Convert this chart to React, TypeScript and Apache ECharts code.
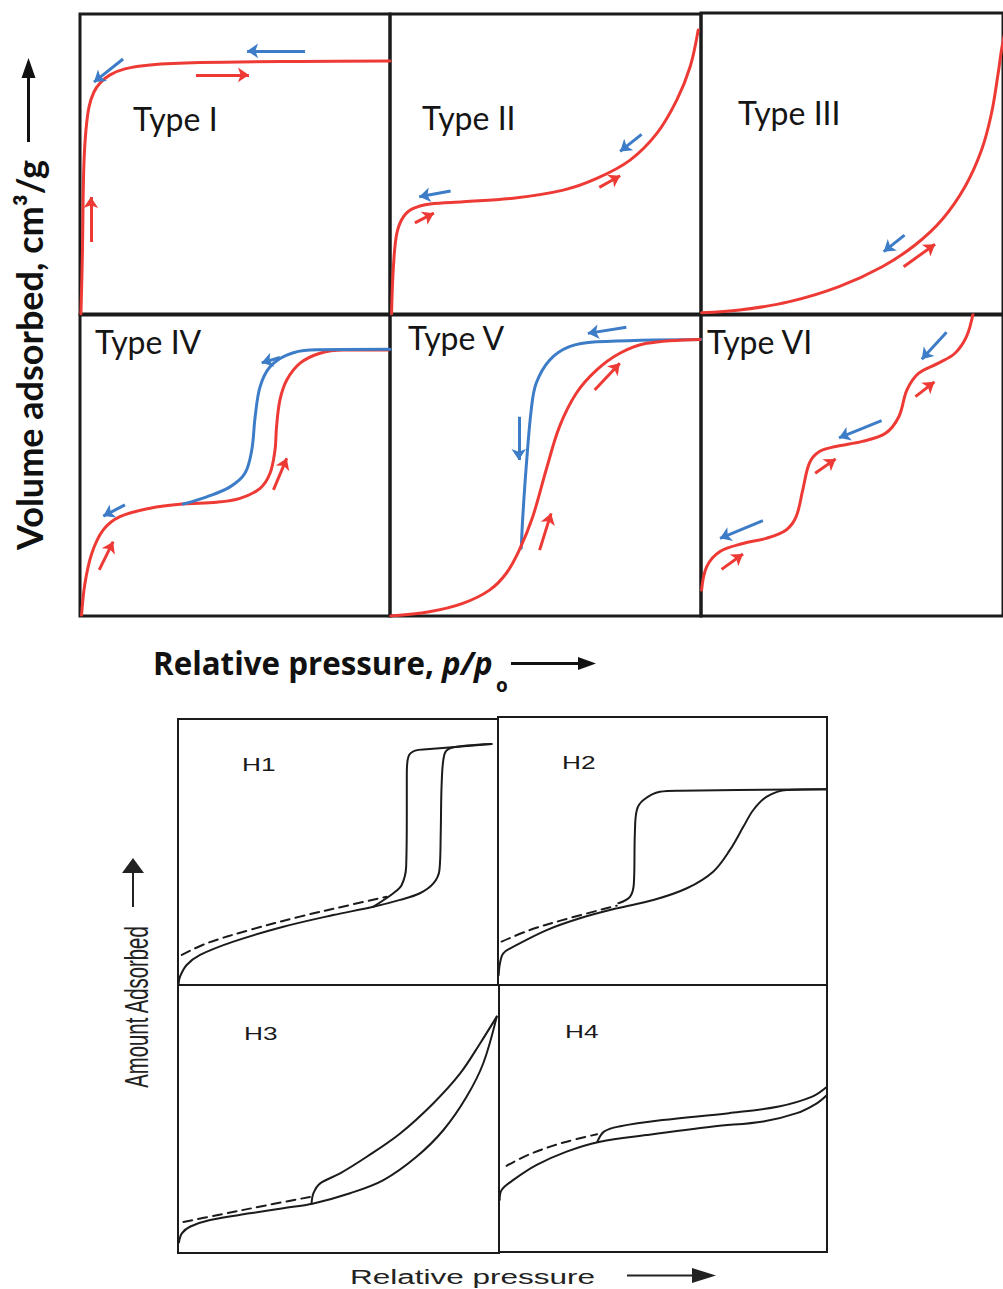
import { useEffect, useRef } from "react";
import * as echarts from "echarts";

const RED = "#EE3A35";
const BLUE = "#3D7CC6";
const INK = "#1b1b1b";

// ---------- Top figure (IUPAC types), coordinates in % of each panel ----------
const typeICurve = [[0.3, 0], [0.8, 21], [1, 38], [1.3, 51], [1.9, 61], [2.9, 69], [4.5, 74], [6.5, 77], [9.7, 79.7], [14.5, 81.7], [22.6, 83], [38.7, 83.8], [71, 84.2], [100, 84.3]];
const typeIRedArrows = [[37.4, 79.7, 54.5, 79.7], [3.5, 24, 3.5, 39]];
const typeIBlueArrows = [[13.9, 85, 4.5, 77.3], [72.6, 87.7, 53.9, 87.7]];

const typeIICurve = [[0.5, 0], [1.1, 15.8], [2.2, 26.9], [4.3, 32.4], [7.5, 35.2], [12.9, 36.7], [23.6, 37.4], [39.6, 38.6], [55.7, 41.3], [66.5, 45.2], [77.2, 51.3], [85.8, 60.2], [92.2, 71.3], [96.5, 82.4], [99.1, 94.7]];
const typeIIRedArrows = [[8, 30.4, 14.1, 33.6], [67.3, 42.2, 74, 46.1]];
const typeIIBlueArrows = [[19.5, 41, 9.4, 39.1], [80.9, 59.9, 74, 54.2]];

const typeIIICurve = [[0.2, 0.4], [12.8, 1.3], [29.3, 4.1], [45.7, 9.1], [60, 15.7], [71, 23], [79.7, 31.2], [87.4, 42.3], [92.9, 54.5], [96.2, 66.7], [98.4, 80], [99.5, 87.7], [100.5, 93]];
const typeIIIRedArrows = [[67.1, 15.7, 77.5, 23.2]];
const typeIIIBlueArrows = [[67.4, 26.2, 60.5, 20.7]];

const typeIVAds = [[0.5, 0.3], [1.6, 10.9], [3.8, 20.8], [7.5, 28.6], [12.9, 33], [22.6, 35.8], [33.3, 37.2], [44.1, 37.8], [51.6, 39.1], [58.1, 42.4], [61.3, 47.4], [62.9, 55.1], [63.4, 62.9], [64.5, 71.8], [66.7, 78.4], [71, 84], [77.4, 87.3], [84.9, 88.4], [99.5, 88.4]];
const typeIVDes = [[33.3, 37.2], [40.9, 39.6], [48.4, 42.9], [53.2, 47.4], [55.4, 55.1], [56.5, 66.2], [58.1, 76.2], [61.3, 82.8], [66.7, 86.7], [74.2, 88.4], [100, 88.6]];
const typeIVRedArrows = [[62.4, 41.9, 66.7, 52.4], [6.2, 15.3, 10.7, 24.7]];
const typeIVBlueArrows = [[64.5, 85.9, 58.6, 84.1], [14.5, 36.9, 7.5, 33.2]];

const typeVAds = [[0.2, 0], [12.6, 1.4], [23.4, 4.2], [32, 8.6], [37.4, 14.2], [41.6, 22], [45.9, 33], [50.2, 48.5], [54.5, 62.9], [59.9, 74], [66.4, 81.7], [73.9, 87.3], [82.5, 90.6], [99.7, 91.9]];
const typeVDes = [[42.2, 22.5], [42.7, 33], [43.8, 49.6], [45.4, 68.4], [47, 77.3], [51.3, 85], [57.7, 89.5], [66.4, 91.1], [100, 91.9]];
const typeVRedArrows = [[65.8, 75.1, 73.9, 84], [48.1, 21.9, 51.8, 34.1]];
const typeVBlueArrows = [[76, 95.9, 63.6, 93.9], [41.4, 66.2, 41.4, 51.8]];

const typeVICurve = [[0.2, 8.6], [1.9, 16.4], [6.3, 21.4], [13.9, 24.1], [21.6, 25.8], [28.2, 28.6], [31.5, 33], [33.7, 41.9], [35.9, 50.8], [39.1, 54.6], [44.6, 56.3], [53.4, 58], [61.1, 60.7], [65.5, 66.2], [68.2, 75.1], [72, 80.6], [78.6, 84], [84.1, 87.3], [87.9, 92.8], [90.1, 100.5]];
const typeVIRedArrows = [[71, 72.9, 77.3, 77.8], [37.8, 47.4, 44.6, 52.2], [6.8, 15.5, 13.9, 20.6]];
const typeVIBlueArrows = [[81.3, 94.3, 73.1, 85.3], [59.8, 64.9, 45.7, 59.2], [20.5, 31.7, 6.3, 25.8]];

const typeLabels = ["Type I", "Type II", "Type III", "Type IV", "Type V", "Type VI"];

// ---------- Bottom figure (hysteresis loops) ----------
const h1Ads = [[0.2, 0.5], [0.6, 3.1], [2.7, 7.5], [6.9, 11.3], [17.3, 16.3], [32.9, 21.9], [48.5, 26.3], [61, 29.4], [69.4, 32], [75.6, 34.5], [79.8, 38.2], [81.7, 43.2], [82.1, 57], [82.4, 75.8], [83.2, 86.5], [85, 89], [90.2, 90], [98, 90.6]];
const h1Des = [[98, 90.6], [77.7, 88.6], [74.1, 88.1], [72, 85.8], [71.5, 79.6], [71.5, 63.3], [71.3, 44.5], [69.9, 37.6], [67.3, 34.5], [61, 29.4]];
const h1Dash = [[1.2, 11.3], [9, 15.7], [22.5, 20.7], [38.1, 25.7], [53.8, 30.1], [65.2, 33.2]];

const h2Ads = [[0.2, 3.7], [0.6, 8.1], [1.6, 11.8], [4.7, 14.3], [14.8, 20.5], [24.9, 24.9], [36.1, 28.6], [47.2, 31.7], [57.4, 36.1], [65.4, 42.3], [70.5, 50.4], [74.6, 59.1], [77.6, 65.3], [81.7, 70.3], [87.8, 72.8], [100, 73]];
const h2Des = [[100, 73], [55.3, 72.5], [49.2, 72.1], [44.2, 69], [42.2, 65.3], [41.6, 56.6], [41.3, 37.9], [40.1, 32.9], [36.6, 30.5]];
const h2Dash = [[1.1, 16.2], [9.7, 20.5], [19.8, 24.3], [36.1, 29.6]];

const h3Ads = [[0.3, 4], [1.2, 7.3], [3.7, 9.8], [10, 12.3], [22.4, 14.8], [32.8, 16.7], [42.2, 18.5], [53.6, 22.3], [64, 27.2], [74.3, 35.9], [82.7, 45.9], [89.9, 58.3], [95.1, 70.8], [99.3, 88.2]];
const h3Des = [[99.3, 88.2], [94.1, 78.2], [87.9, 67], [79.5, 55.8], [69.2, 44.6], [58.8, 35.9], [50.5, 29.7], [44.2, 25.9], [42.2, 22.3], [41.6, 18.5]];
const h3Dash = [[1.7, 11.6], [12.1, 14.1], [27.6, 17.8], [41.1, 20.9]];

const h4Ads = [[0.2, 19.5], [0.8, 23.2], [4.4, 27], [11.5, 32.6], [20.6, 37.6], [30.8, 41.3], [45, 43.8], [65.3, 47], [80.6, 48.9], [90.8, 52], [96.9, 55.7], [100, 58.8]];
const h4Des = [[100, 61.9], [95.5, 58.2], [85.3, 54.5], [70.1, 52], [49.8, 49.4], [36.6, 47], [32, 45.1], [30, 41.3]];
const h4Dash = [[2.3, 32.3], [9.5, 36.7], [19.7, 41], [29.9, 44.1]];

const loopLabels = ["H1", "H2", "H3", "H4"];

// ---------- layout ----------
const GRIDS = [
  { left: 80, top: 14, width: 310, height: 300, bw: 3 },
  { left: 390, top: 14, width: 311, height: 300, bw: 3 },
  { left: 701, top: 13, width: 304, height: 301, bw: 3 },
  { left: 80, top: 315, width: 310, height: 301, bw: 3 },
  { left: 390, top: 315, width: 311, height: 301, bw: 3 },
  { left: 701, top: 315, width: 304, height: 301, bw: 3 },
  { left: 178, top: 719, width: 320, height: 266, bw: 2 },
  { left: 498, top: 717, width: 329, height: 268, bw: 2 },
  { left: 178, top: 985, width: 321, height: 268, bw: 2 },
  { left: 499, top: 985, width: 328, height: 267, bw: 2 },
];
const TYPE_LABEL_POS = [[133, 118], [422, 117], [738, 112], [95, 341], [408, 337], [707, 341]];
const LOOP_LABEL_POS = [[242, 765], [562, 763], [244, 1034], [565, 1032]];

function curve(i: number, data: number[][], color: string, width: number, dashed = false, z = 3) {
  return {
    type: "line",
    xAxisIndex: i,
    yAxisIndex: i,
    data,
    smooth: 0.35,
    symbol: "none",
    showSymbol: false,
    silent: true,
    animation: false,
    z,
    lineStyle: { color, width, type: dashed ? [9, 6] : "solid", cap: "round", join: "round" },
  };
}

function arrows(i: number, list: number[][], color: string) {
  return {
    type: "lines",
    coordinateSystem: "cartesian2d",
    xAxisIndex: i,
    yAxisIndex: i,
    silent: true,
    animation: false,
    z: 5,
    symbol: ["none", "arrow"],
    symbolSize: 11,
    lineStyle: { color, width: 3, opacity: 1, curveness: 0 },
    data: list.map((a) => ({ coords: [[a[0], a[1]], [a[2], a[3]]] })),
  };
}

function buildOption() {
  const grid = GRIDS.map((g) => ({
    left: g.left,
    top: g.top,
    width: g.width,
    height: g.height,
    show: true,
    borderColor: INK,
    borderWidth: g.bw,
    backgroundColor: "transparent",
  }));
  const xAxis = GRIDS.map((_, i) => ({ type: "value", gridIndex: i, min: 0, max: 100, show: false }));
  const yAxis = GRIDS.map((_, i) => ({ type: "value", gridIndex: i, min: 0, max: 100, show: false }));

  const series: any[] = [
    curve(0, typeICurve, RED, 3),
    arrows(0, typeIRedArrows, RED),
    arrows(0, typeIBlueArrows, BLUE),
    curve(1, typeIICurve, RED, 3),
    arrows(1, typeIIRedArrows, RED),
    arrows(1, typeIIBlueArrows, BLUE),
    curve(2, typeIIICurve, RED, 3),
    arrows(2, typeIIIRedArrows, RED),
    arrows(2, typeIIIBlueArrows, BLUE),
    curve(3, typeIVAds, RED, 3),
    curve(3, typeIVDes, BLUE, 3, false, 4),
    arrows(3, typeIVRedArrows, RED),
    arrows(3, typeIVBlueArrows, BLUE),
    curve(4, typeVDes, BLUE, 3),
    curve(4, typeVAds, RED, 3, false, 4),
    arrows(4, typeVRedArrows, RED),
    arrows(4, typeVBlueArrows, BLUE),
    curve(5, typeVICurve, RED, 3),
    arrows(5, typeVIRedArrows, RED),
    arrows(5, typeVIBlueArrows, BLUE),
    curve(6, h1Ads, INK, 2),
    curve(6, h1Des, INK, 2),
    curve(6, h1Dash, INK, 2, true),
    curve(7, h2Ads, INK, 2),
    curve(7, h2Des, INK, 2),
    curve(7, h2Dash, INK, 2, true),
    curve(8, h3Ads, INK, 2),
    curve(8, h3Des, INK, 2),
    curve(8, h3Dash, INK, 2, true),
    curve(9, h4Ads, INK, 2),
    curve(9, h4Des, INK, 2),
    curve(9, h4Dash, INK, 2, true),
  ];

  const graphic: any[] = [];
  typeLabels.forEach((t, i) => {
    graphic.push({
      type: "text",
      x: TYPE_LABEL_POS[i][0],
      y: TYPE_LABEL_POS[i][1],
      silent: true,
      style: {
        text: t,
        fill: "#151515",
        fontFamily: "Lato",
        fontSize: 32,
        align: "left",
        verticalAlign: "middle",
        textAlign: "left",
        textVerticalAlign: "middle",
      },
    });
  });
  loopLabels.forEach((t, i) => {
    graphic.push({
      type: "text",
      x: LOOP_LABEL_POS[i][0],
      y: LOOP_LABEL_POS[i][1],
      scaleX: 1.5,
      silent: true,
      style: {
        text: t,
        fill: "#1a1a1a",
        fontFamily: "Liberation Sans",
        fontSize: 17.5,
        align: "left",
        verticalAlign: "middle",
        textAlign: "left",
        textVerticalAlign: "middle",
      },
    });
  });

  // Top figure axis titles
  graphic.push({
    type: "text",
    x: 29,
    y: 355,
    rotation: Math.PI / 2,
    silent: true,
    style: {
      text: "Volume adsorbed, cm³/g",
      fill: "#111",
      fontFamily: "Lato",
      fontWeight: "bold",
      fontSize: 36,
      align: "center",
      verticalAlign: "middle",
      textAlign: "center",
      textVerticalAlign: "middle",
    },
  });
  graphic.push({ type: "line", silent: true, shape: { x1: 28.5, y1: 142, x2: 28.5, y2: 74 }, style: { stroke: "#111", lineWidth: 3 } });
  graphic.push({ type: "polygon", silent: true, shape: { points: [[21.5, 78], [35.5, 78], [28.5, 58]] }, style: { fill: "#111" } });

  graphic.push({
    type: "text",
    x: 153,
    y: 663,
    silent: true,
    style: {
      text: "{a|Relative pressure, }{b|p/p}",
      align: "left",
      verticalAlign: "middle",
      textAlign: "left",
      textVerticalAlign: "middle",
      rich: {
        a: { fontFamily: "Open Sans", fontWeight: "bold", fontSize: 31.3, fill: "#111" },
        b: { fontFamily: "Open Sans", fontWeight: "bold", fontStyle: "italic", fontSize: 31.3, fill: "#111" },
      },
    },
  });
  graphic.push({
    type: "text",
    x: 496,
    y: 685,
    silent: true,
    style: { text: "o", fill: "#111", fontFamily: "Open Sans", fontWeight: "bold", fontSize: 19, align: "left", verticalAlign: "middle", textAlign: "left", textVerticalAlign: "middle" },
  });
  graphic.push({ type: "line", silent: true, shape: { x1: 511, y1: 663.5, x2: 582, y2: 663.5 }, style: { stroke: "#111", lineWidth: 3 } });
  graphic.push({ type: "polygon", silent: true, shape: { points: [[578, 657], [578, 670], [596, 663.5]] }, style: { fill: "#111" } });

  // Bottom figure axis titles
  graphic.push({
    type: "text",
    x: 137,
    y: 1007,
    rotation: Math.PI / 2,
    scaleY: 1.6,
    silent: true,
    style: {
      text: "Amount Adsorbed",
      fill: "#222",
      fontFamily: "Liberation Sans",
      fontSize: 20.3,
      align: "center",
      verticalAlign: "middle",
      textAlign: "center",
      textVerticalAlign: "middle",
    },
  });
  graphic.push({ type: "line", silent: true, shape: { x1: 133, y1: 907, x2: 133, y2: 872 }, style: { stroke: "#222", lineWidth: 2 } });
  graphic.push({ type: "polygon", silent: true, shape: { points: [[122, 873], [144, 873], [133, 858]] }, style: { fill: "#222" } });

  graphic.push({
    type: "text",
    x: 350,
    y: 1277,
    scaleX: 1.5,
    silent: true,
    style: {
      text: "Relative pressure",
      fill: "#222",
      fontFamily: "Liberation Sans",
      fontSize: 21,
      align: "left",
      verticalAlign: "middle",
      textAlign: "left",
      textVerticalAlign: "middle",
    },
  });
  graphic.push({ type: "line", silent: true, shape: { x1: 627, y1: 1275.5, x2: 695, y2: 1275.5 }, style: { stroke: "#222", lineWidth: 2 } });
  graphic.push({ type: "polygon", silent: true, shape: { points: [[692, 1268], [692, 1283], [716, 1275.5]] }, style: { fill: "#222" } });

  return {
    animation: false,
    backgroundColor: "#ffffff",
    grid,
    xAxis,
    yAxis,
    series,
    graphic: { elements: graphic },
  };
}

export default function App() {
  const ref = useRef<HTMLDivElement>(null);
  useEffect(() => {
    if (!ref.current) return;
    const chart = echarts.init(ref.current, undefined, { renderer: "svg" });
    chart.setOption(buildOption() as any);
    return () => chart.dispose();
  }, []);
  return (
    <div
      ref={ref}
      style={{ position: "absolute", left: 0, top: 0, width: 1003, height: 1289, background: "#fff" }}
    />
  );
}
